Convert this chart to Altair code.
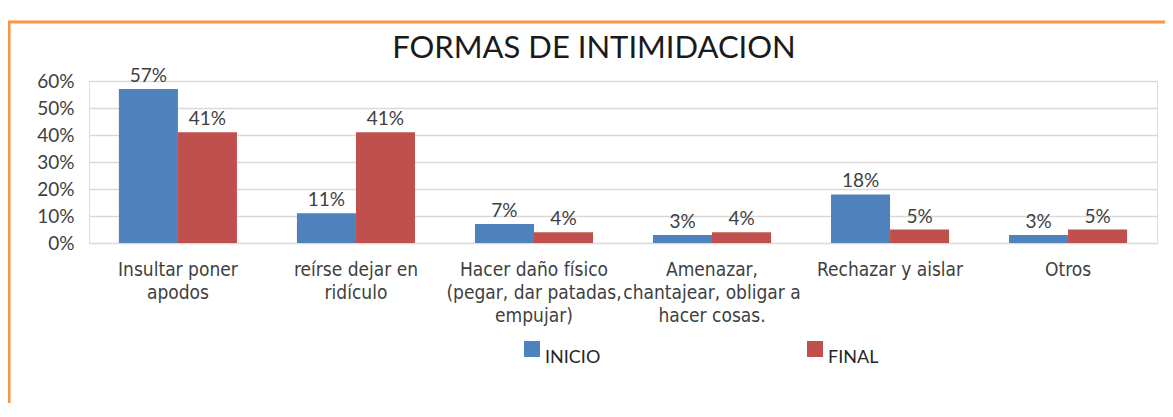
import altair as alt
import pandas as pd

title_text = "FORMAS DE INTIMIDACION"
categories = [
    "Insultar poner|apodos",
    "reírse dejar en|ridículo",
    "Hacer daño físico|(pegar, dar patadas,|empujar)",
    "Amenazar,|chantajear, obligar a|hacer cosas.",
    "Rechazar y aislar",
    "Otros",
]
series = ["INICIO", "FINAL"]
inicio = [0.57, 0.11, 0.07, 0.03, 0.18, 0.03]
final = [0.41, 0.41, 0.04, 0.04, 0.05, 0.05]
y_ticks = [0, 0.1, 0.2, 0.3, 0.4, 0.5, 0.6]

rows = []
for c, a, b in zip(categories, inicio, final):
    rows.append({"cat": c, "serie": "INICIO", "v": a})
    rows.append({"cat": c, "serie": "FINAL", "v": b})
df = pd.DataFrame(rows)

num_font = "Lato"
cat_font = "'Liberation Sans Narrow', 'DejaVu Sans Condensed', 'Liberation Sans', sans-serif"

x = alt.X("cat:N", sort=categories, title=None,
          scale=alt.Scale(paddingInner=0.337, paddingOuter=0.168),
          axis=alt.Axis(labelAngle=0, labelExpr="split(datum.label, '|')",
                        labelFont=cat_font, labelFontSize=19, labelColor="#404040",
                        labelLineHeight=23, labelPadding=17, labelLimit=300,
                        ticks=False, domain=False, labelBaseline="top"))
xo = alt.XOffset("serie:N", sort=series, scale=alt.Scale(paddingInner=0, paddingOuter=0))
y = alt.Y("v:Q", title=None,
          scale=alt.Scale(domain=[0, 0.6], nice=False),
          axis=alt.Axis(values=y_ticks, format=".0%", ticks=False, domain=False,
                        labelOverlap=False,
                        labelFont=num_font, labelFontSize=19, labelColor="#404040",
                        labelPadding=15, gridColor="#D9D9D9", gridWidth=1.5))
color = alt.Color("serie:N", sort=series,
                  scale=alt.Scale(domain=series, range=["#4F81BD", "#C0504D"]),
                  legend=alt.Legend(title=None, orient="none", legendX=434, legendY=259,
                                    direction="horizontal", symbolType="square",
                                    symbolSize=256, symbolStrokeWidth=0,
                                    labelFont=num_font, labelFontSize=18,
                                    labelColor="#262626", labelBaseline="top",
                                    columnPadding=205, labelOffset=4))

base = alt.Chart(df)
bars = base.mark_bar().encode(x=x, xOffset=xo, y=y, color=color)
labels = base.mark_text(baseline="bottom", dy=-3, font=num_font, fontSize=19,
                        color="#404040").encode(
    x=x, xOffset=xo, y=y,
    text=alt.Text("v:Q", format=".0%"))

one = pd.DataFrame({"t": [title_text]})
frame = alt.Chart(one).mark_rect(
    fill=None, stroke="#F79646", strokeWidth=3).encode(
    x=alt.value(-80), x2=alt.value(1150), y=alt.value(-59), y2=alt.value(400))
title = alt.Chart(one).mark_text(
    font=num_font, fontSize=31, color="#1a1a1a", align="center",
    baseline="alphabetic").encode(
    x=alt.value(505), y=alt.value(-23), text="t:N")

chart = alt.layer(frame, title, bars, labels).properties(
    width=1068, height=162,
    padding={"left": 81, "top": 73, "right": 8, "bottom": 160},
    autosize=alt.AutoSizeParams(type="none"),
).configure_view(stroke=None).configure(background="white")

chart.save("out.html", embed_options={"renderer": "svg", "actions": False})
